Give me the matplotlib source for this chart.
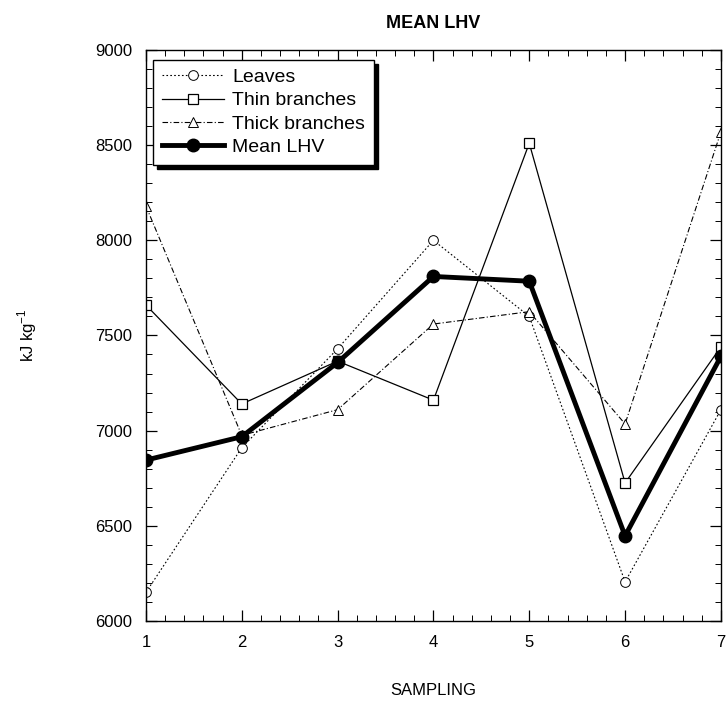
import matplotlib
matplotlib.use("Agg")
from matplotlib import pyplot as plt
from matplotlib.ticker import MultipleLocator

plt.rcParams['font.family'] = ['Liberation Sans', 'DejaVu Sans']

sampling = [1, 2, 3, 4, 5, 6, 7]
leaves = [6150, 6910, 7430, 8000, 7600, 6205, 7110]
thinBranches = [7660, 7140, 7365, 7160, 8510, 6725, 7440]
thickBranches = [8180, 6975, 7110, 7560, 7625, 7035, 8570]
meanLHV = [6845, 6968, 7358, 7810, 7785, 6447, 7390]

fig = plt.figure(figsize=(7.26, 7.04), dpi=100)
ax = fig.add_axes([0.201, 0.118, 0.792, 0.811])

ax.plot(sampling, leaves, color='black', lw=0.8, dashes=(1.5, 2),
        marker='o', ms=7, mfc='white', mec='black', mew=0.7, label='Leaves')
ax.plot(sampling, thinBranches, color='black', lw=0.9, ls='-',
        marker='s', ms=7, mfc='white', mec='black', mew=0.9, label='Thin branches')
ax.plot(sampling, thickBranches, color='black', lw=0.8, dashes=(5, 2, 1, 2),
        marker='^', ms=7, mfc='white', mec='black', mew=0.7, label='Thick branches')
ax.plot(sampling, meanLHV, color='black', lw=3.5, ls='-',
        marker='o', ms=9, mfc='black', mec='black', label='Mean LHV')

ax.set_xlim(1, 7)
ax.set_ylim(6000, 9000)
ax.xaxis.set_major_locator(MultipleLocator(1))
ax.xaxis.set_minor_locator(MultipleLocator(0.2))
ax.yaxis.set_major_locator(MultipleLocator(500))
ax.yaxis.set_minor_locator(MultipleLocator(100))
ax.tick_params(which='both', direction='in', top=True, right=True, labelsize=12)
ax.tick_params(which='major', length=8, width=0.9, pad=10)
ax.tick_params(which='minor', length=4, width=0.7)
for sp in ax.spines.values():
    sp.set_linewidth(1.0)

ax.set_title("MEAN LHV", fontsize=13, fontweight='bold', pad=16)
ax.set_xlabel("SAMPLING", fontsize=12, labelpad=24)
ax.set_ylabel("kJ kg$^{\\mathregular{-1}}$", fontsize=12, labelpad=40)

leg = ax.legend(loc='upper left', bbox_to_anchor=(0.006, 0.99), fontsize=14,
                handlelength=3.2, handletextpad=0.4, borderpad=0.45,
                labelspacing=0.3, frameon=True, fancybox=False,
                shadow={'color': 'black', 'alpha': 1, 'ox': 3, 'oy': -3},
                borderaxespad=0.2)
leg.get_frame().set_edgecolor('black')
leg.get_frame().set_linewidth(1.0)

fig.savefig("out.png", dpi=100)
